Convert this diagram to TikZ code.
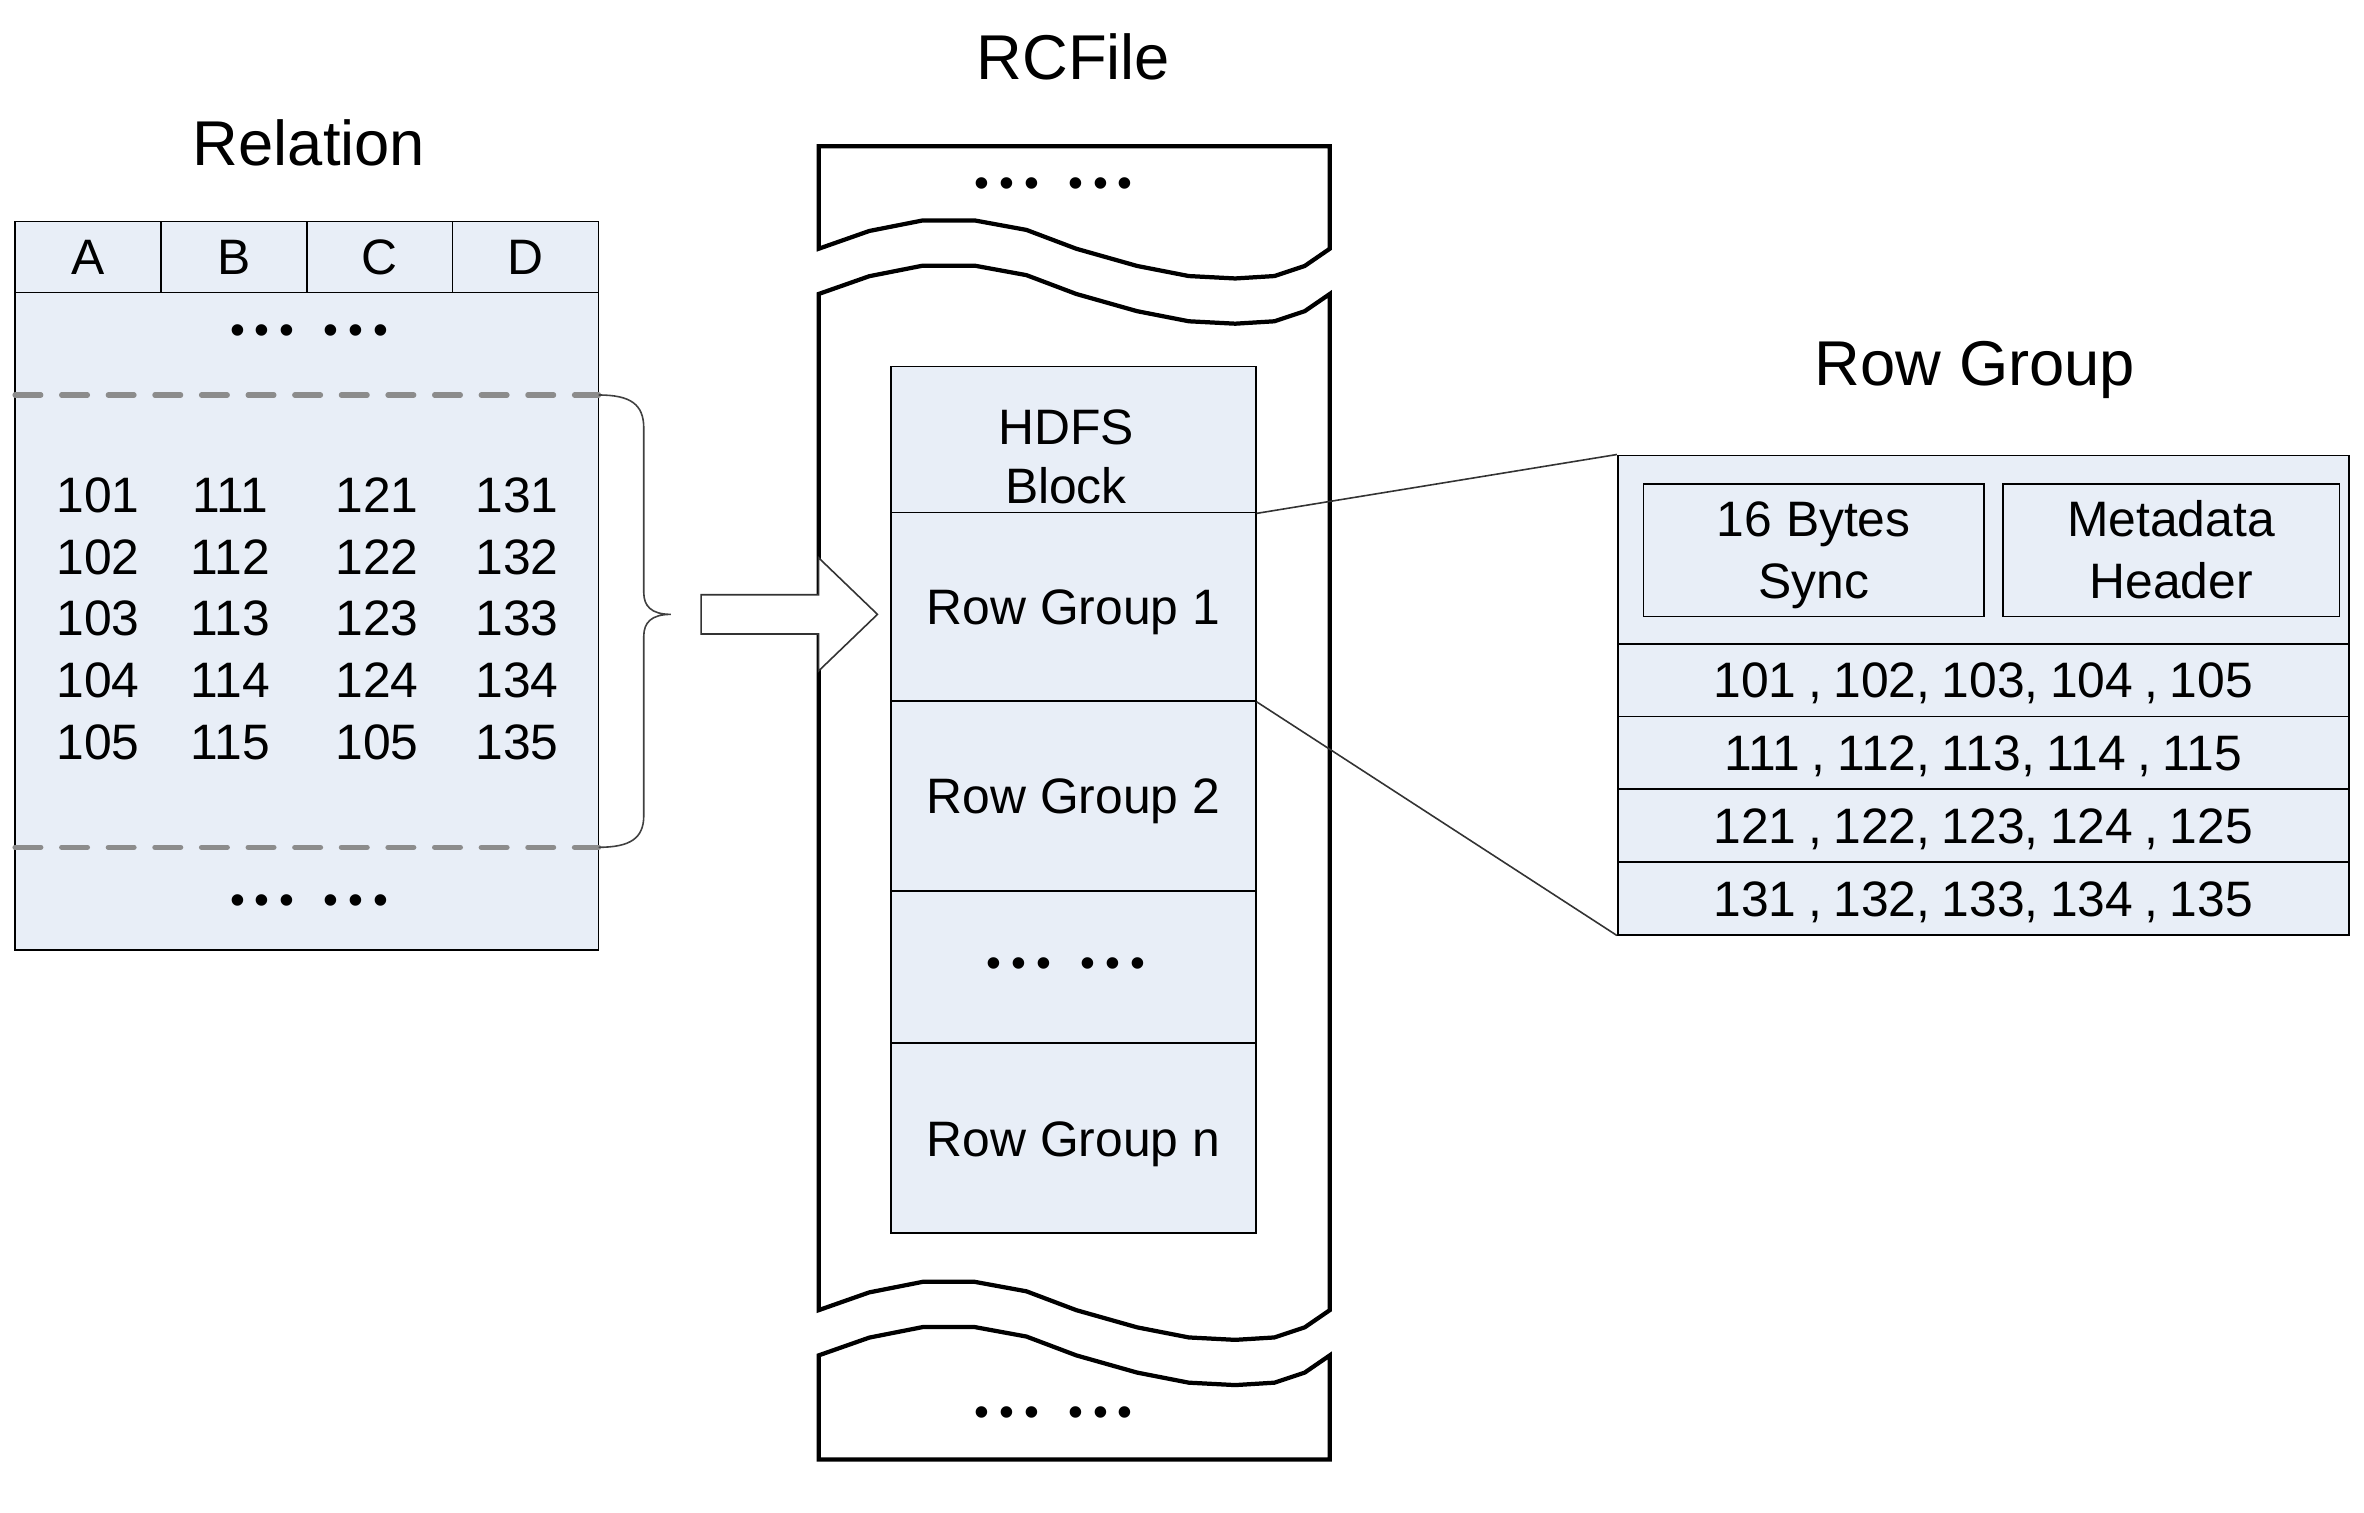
\documentclass[tikz,border=0pt]{standalone}
\usepackage{fontspec}
\setmainfont{Liberation Sans}
\usetikzlibrary{fit}
\definecolor{boxfill}{RGB}{232,238,247}
\definecolor{dashgray}{RGB}{140,140,140}
\newcommand\sixdots{•\kern0.237em•\kern0.237em•\kern0.68em•\kern0.237em•\kern0.237em•}
\newcommand\tightspacing{\spaceskip=0.23em\relax}
\newcommand\wavefwd[1]{(543,#1) -- (576.6,#1-11.8) -- (612.1,#1-18.8) -- (646.4,#1-18.8) -- (680.8,#1-12.5) -- (713.9,#1) -- (754.2,#1+11.4) -- (788.5,#1+18.1) -- (819.3,#1+19.7) -- (845.3,#1+18.1) -- (865.4,#1+11.4) -- (882,#1)}
\newcommand\wavebwd[1]{(882,#1) -- (865.4,#1+11.4) -- (845.3,#1+18.1) -- (819.3,#1+19.7) -- (788.5,#1+18.1) -- (754.2,#1+11.4) -- (713.9,#1) -- (680.8,#1-12.5) -- (646.4,#1-18.8) -- (612.1,#1-18.8) -- (576.6,#1-11.8) -- (543,#1)}
\tikzset{
  txt/.style={inner sep=0pt, font=\fontsize{18.8}{22}\selectfont, text height=13.46pt, text depth=0pt},
  rowtxt/.style={inner sep=0pt, font=\fontsize{18.8}{22}\selectfont\tightspacing, text height=13.46pt, text depth=0pt},
  dotstxt/.style={inner sep=0pt, font=\fontsize{16}{19}\selectfont, text height=10.6pt, text depth=0pt},
  ttl/.style={inner sep=0pt, font=\fontsize{23.9}{28}\selectfont, text height=17.1pt, text depth=0pt},
  cellbox/.style={draw=black, fill=boxfill, line width=0.6pt, inner sep=0pt},
  fitbox/.style={draw=black, fill=boxfill, line width=0.6pt, inner sep=0pt},
  rcline/.style={draw=black, fill=white, line width=1.6pt, line join=miter},
  dashline/.style={draw=dashgray, line width=2pt, dash pattern=on 9.7pt off 7.9pt, line cap=round},
  bracel/.style={draw=black!75, line width=0.6pt},
  conn/.style={draw=black!80, line width=0.6pt},
  blockarrow/.style={draw=black!80, fill=white, line width=0.6pt}
}
\begin{document}
\begin{tikzpicture}[x=0.02cm, y=-0.02cm]
\useasboundingbox (0,0) rectangle (1568,1003);

% ---------- Relation ----------
\node[ttl] (reltitle) at (205,95) {Relation};
\node[fitbox, fit={(10,194)(397,630)}] (relbody) {};
\node[cellbox, txt, minimum width=1.935cm, minimum height=0.94cm] (hA) at (58.375,170.5) {A};
\node[cellbox, txt, minimum width=1.935cm, minimum height=0.94cm] (hB) at (155.125,170.5) {B};
\node[cellbox, txt, minimum width=1.935cm, minimum height=0.94cm] (hC) at (251.875,170.5) {C};
\node[cellbox, txt, minimum width=1.935cm, minimum height=0.94cm] (hD) at (348.625,170.5) {D};
\node[dotstxt] (reldots1) at (205,219) {\sixdots};
\node[dotstxt] (reldots2) at (205,597) {\sixdots};
\coordinate (d1L) at (10,262);
\coordinate (d1R) at (397,262);
\coordinate (d2L) at (10,562);
\coordinate (d2R) at (397,562);
\draw[dashline] (d1L) -- (d1R);
\draw[dashline] (d2L) -- (d2R);
\foreach \y/\a/\b/\c/\d [count=\r] in {328/101/111/121/131, 369/102/112/122/132, 410/103/113/123/133, 451/104/114/124/134, 492/105/115/105/135}{
  \node[txt] (nA\r) at (65,\y) {\a};
  \node[txt] (nB\r) at (153,\y) {\b};
  \node[txt] (nC\r) at (250,\y) {\c};
  \node[txt] (nD\r) at (343,\y) {\d};
}
% brace
\coordinate (bracetip) at (445,407.5);
\draw[bracel] (d1R) .. controls (418,262) and (427,268) .. (427,284) -- (427,393)
  .. controls (427,402) and (432,407.5) .. (bracetip)
  .. controls (432,407.5) and (427,413) .. (427,422) -- (427,541)
  .. controls (427,556) and (418,562) .. (d2R);

% ---------- RCFile ----------
\node[ttl] (rctitle) at (712,38) {RCFile};
\draw[rcline] (543,97) -- (882,97) -- \wavebwd{165} -- cycle;
\draw[rcline] \wavefwd{195} -- \wavebwd{869} -- cycle;
\draw[rcline] \wavefwd{899} -- (882,968) -- (543,968) -- cycle;
\node[dotstxt] (topdots) at (699,122) {\sixdots};
\node[dotstxt] (botdots) at (699,937) {\sixdots};

\node[cellbox, minimum width=4.84cm, minimum height=1.94cm] (hdfs) at (712,291.5) {};
\node[txt] (hdfs1) at (707,283) {HDFS};
\node[txt] (hdfs2) at (707,322) {Block};
\node[cellbox, txt, minimum width=4.84cm, minimum height=2.5cm] (rg1) at (712,402.5) {Row Group 1};
\node[cellbox, txt, minimum width=4.84cm, minimum height=2.52cm] (rg2) at (712,528) {Row Group 2};
\node[cellbox, minimum width=4.84cm, minimum height=2.02cm] (rgd) at (712,641.5) {};
\node[dotstxt] (rgdots) at (707,639) {\sixdots};
\node[cellbox, txt, minimum width=4.84cm, minimum height=2.52cm] (rgn) at (712,755) {Row Group n};

% block arrow
\draw[blockarrow] (465,394.5) -- (543,394.5) -- (543,370) -- (582,407.5) -- (543,445) -- (543,420.5) -- (465,420.5) -- cycle;

% ---------- Row Group ----------
\node[ttl] (rgtitle) at (1310,241) {Row Group};
\node[fitbox, fit={(1073,302)(1558,427)}] (rghead) {};
\node[cellbox, rowtxt, minimum width=9.7cm, minimum height=0.965cm] (row1) at (1315.5,451.125) {101 , 102, 103, 104 , 105};
\node[cellbox, rowtxt, minimum width=9.7cm, minimum height=0.965cm] (row2) at (1315.5,499.375) {111 , 112, 113, 114 , 115};
\node[cellbox, rowtxt, minimum width=9.7cm, minimum height=0.965cm] (row3) at (1315.5,547.625) {121 , 122, 123, 124 , 125};
\node[cellbox, rowtxt, minimum width=9.7cm, minimum height=0.965cm] (row4) at (1315.5,595.875) {131 , 132, 133, 134 , 135};
\node[fitbox, fit={(1090,321)(1315.8,409)}] (sync) {};
\node[txt] (sync1) at (1203,344) {16 Bytes};
\node[txt] (sync2) at (1203,385) {Sync};
\node[fitbox, fit={(1328.5,321)(1551.7,409)}] (meta) {};
\node[txt] (meta1) at (1440,344) {Metadata};
\node[txt] (meta2) at (1440,385) {Header};

% connectors
\draw[conn] (hdfs.south east) -- (rghead.north west);
\draw[conn] (rg1.south east) -- (row4.south west);
\end{tikzpicture}
\end{document}
